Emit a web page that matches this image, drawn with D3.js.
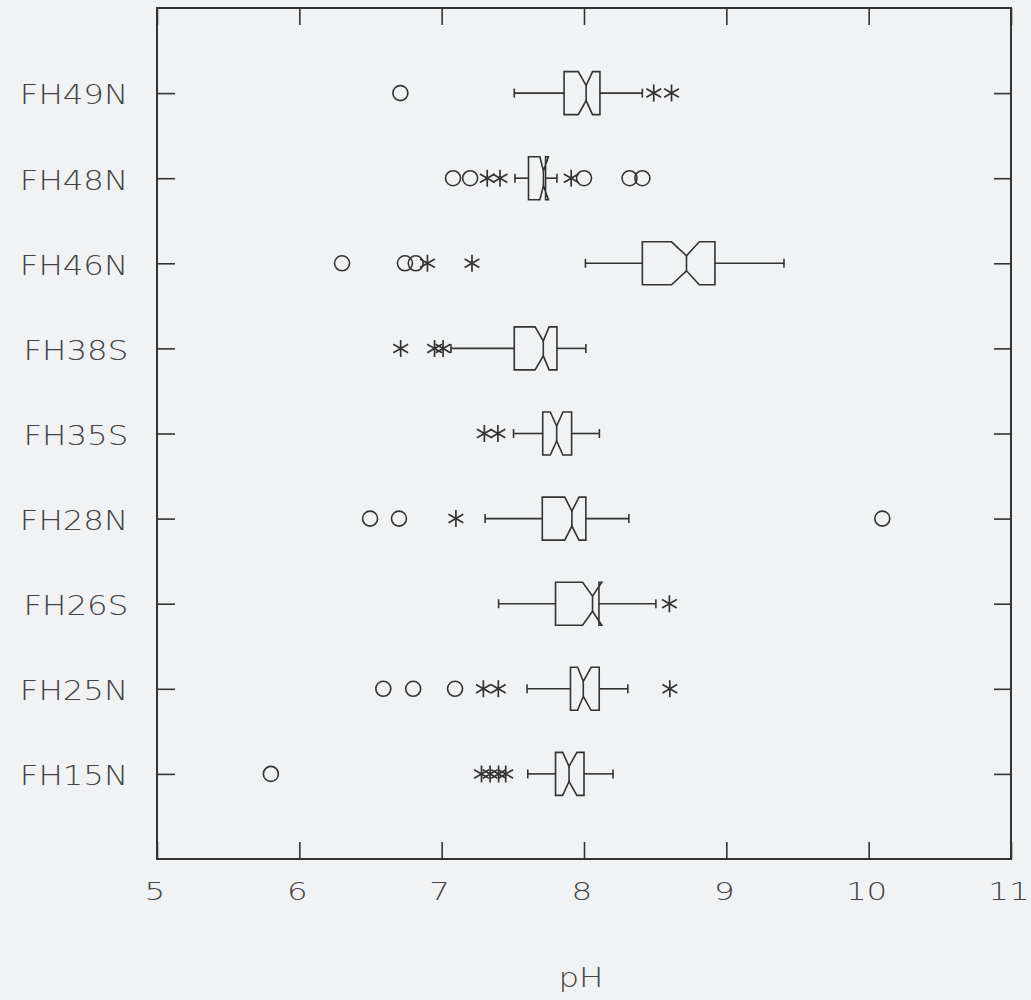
<!DOCTYPE html>
<html>
<head>
<meta charset="utf-8">
<script src="https://cdn.jsdelivr.net/npm/d3@7"></script>
<style>
  html, body { margin: 0; padding: 0; background: #f1f2f3; }
  svg { display: block; }
  text { font-family: "DejaVu Sans", "Liberation Sans", Arial, sans-serif; font-weight: 200; fill: #444; }
</style>
</head>
<body>
<svg id="chart" width="1031" height="1000"></svg>
<script>
// Sites, listed top to bottom
const sites = ["FH49N", "FH48N", "FH46N", "FH38S", "FH35S", "FH28N", "FH26S", "FH25N", "FH15N"];

// Notched box summaries of pH for each site (same order as sites)
const whiskerLow  = [7.51, 7.515, 8.01, 7.065, 7.505, 7.305, 7.40, 7.60, 7.605];
const lowerHinge  = [7.86, 7.61, 8.41, 7.51, 7.71, 7.707, 7.80, 7.905, 7.80];
const notchLow    = [7.96, 7.69, 8.615, 7.656, 7.763, 7.865, 7.99, 7.955, 7.85];
const medians     = [8.015, 7.715, 8.72, 7.714, 7.808, 7.915, 8.06, 7.995, 7.895];
const notchHigh   = [8.06, 7.75, 8.81, 7.755, 7.852, 7.965, 8.125, 8.05, 7.95];
const upperHinge  = [8.112, 7.73, 8.92, 7.81, 7.913, 8.013, 8.105, 8.107, 8.0];
const whiskerHigh = [8.41, 7.81, 9.405, 8.013, 8.108, 8.315, 8.505, 8.308, 8.204];

// Outside values (asterisks) and far outside values (circles)
const outsideValues = [
  [8.49, 8.615],
  [7.32, 7.41, 7.91],
  [6.90, 7.213],
  [6.712, 6.95, 7.01],
  [7.30, 7.395],
  [7.10],
  [8.60],
  [7.293, 7.398, 8.603],
  [7.28, 7.34, 7.40, 7.45]
];
const farOutsideValues = [
  [6.71],
  [7.08, 7.20, 8.00, 8.32, 8.41],
  [6.30, 6.742, 6.818],
  [],
  [],
  [6.497, 6.70, 10.096],
  [],
  [6.59, 6.80, 7.094],
  [5.80]
];

// Axis
const xTicks = [5, 6, 7, 8, 9, 10, 11];
const xTitle = "pH";

const ink = "#333";
const svg = d3.select("#chart");
const plotLeft = 157, plotRight = 1011, plotTop = 8, plotBottom = 859;

const x = d3.scaleLinear().domain([5, 11]).range([plotLeft, plotRight]);
const y = d3.scalePoint().domain(sites).range([plotTop, plotBottom]).padding(1);

const tickLen = 17;
const stretch = 1.2;

// Bottom axis with inward ticks and labels
const gx = svg.append("g").attr("transform", `translate(0,${plotBottom})`)
  .call(d3.axisBottom(x).tickValues(xTicks).tickFormat(d3.format("d"))
    .tickSizeInner(-tickLen).tickSizeOuter(0).tickPadding(23));
gx.select(".domain").remove();
gx.selectAll("line").attr("stroke", ink).attr("stroke-width", 1.6);
gx.selectAll("text").attr("font-size", 25).attr("fill", "#444")
  .attr("x", -2).attr("transform", "scale(1.3,1)");

// Top axis: ticks only
const gt = svg.append("g").attr("transform", `translate(0,${plotTop})`)
  .call(d3.axisTop(x).tickValues(xTicks).tickFormat("")
    .tickSizeInner(-tickLen).tickSizeOuter(0));
gt.select(".domain").remove();
gt.selectAll("line").attr("stroke", ink).attr("stroke-width", 1.6);

// Left axis with site labels
const gy = svg.append("g").attr("transform", `translate(${plotLeft},0)`)
  .call(d3.axisLeft(y).tickSizeInner(-(tickLen + 1)).tickSizeOuter(0).tickPadding(24));
gy.select(".domain").remove();
gy.selectAll("line").attr("stroke", ink).attr("stroke-width", 1.6);
gy.selectAll("text").attr("font-size", 27).attr("fill", "#444")
  .attr("dy", "0.4em").attr("transform", `scale(${stretch},1)`);

// Right axis: ticks only
const gr = svg.append("g").attr("transform", `translate(${plotRight},0)`)
  .call(d3.axisRight(y).tickFormat("").tickSizeInner(-tickLen).tickSizeOuter(0));
gr.select(".domain").remove();
gr.selectAll("line").attr("stroke", ink).attr("stroke-width", 1.6);

// Frame
svg.append("rect")
  .attr("x", plotLeft).attr("y", plotTop)
  .attr("width", plotRight - plotLeft).attr("height", plotBottom - plotTop)
  .attr("fill", "none").attr("stroke", ink).attr("stroke-width", 2);

// Axis title
svg.append("text")
  .attr("transform", `translate(${(plotLeft + plotRight) / 2 - 3},987) scale(1.25,1)`)
  .attr("text-anchor", "middle").attr("font-size", 26).text(xTitle);

// Boxes
const halfBox = 21.5;
const halfWaist = 7.5;
const capHalf = 4.5;

const boxes = svg.append("g").attr("fill", "none").attr("stroke", ink)
  .attr("stroke-width", 1.6).attr("stroke-linejoin", "miter");

sites.forEach((site, i) => {
  const cy = y(site);
  const g = boxes.append("g");

  // whiskers with end caps
  g.append("line").attr("x1", x(whiskerLow[i])).attr("x2", x(lowerHinge[i]))
    .attr("y1", cy).attr("y2", cy);
  g.append("line").attr("x1", x(upperHinge[i])).attr("x2", x(whiskerHigh[i]))
    .attr("y1", cy).attr("y2", cy);
  [whiskerLow[i], whiskerHigh[i]].forEach(v => {
    g.append("line").attr("x1", x(v)).attr("x2", x(v))
      .attr("y1", cy - capHalf).attr("y2", cy + capHalf);
  });

  // notched box
  const p = d3.path();
  p.moveTo(x(lowerHinge[i]), cy - halfBox);
  p.lineTo(x(notchLow[i]), cy - halfBox);
  p.lineTo(x(medians[i]), cy - halfWaist);
  p.lineTo(x(notchHigh[i]), cy - halfBox);
  p.lineTo(x(upperHinge[i]), cy - halfBox);
  p.lineTo(x(upperHinge[i]), cy + halfBox);
  p.lineTo(x(notchHigh[i]), cy + halfBox);
  p.lineTo(x(medians[i]), cy + halfWaist);
  p.lineTo(x(notchLow[i]), cy + halfBox);
  p.lineTo(x(lowerHinge[i]), cy + halfBox);
  p.closePath();
  g.append("path").attr("d", p.toString());
  g.append("line").attr("x1", x(medians[i])).attr("x2", x(medians[i]))
    .attr("y1", cy - halfWaist).attr("y2", cy + halfWaist);

  // outside values: asterisks
  outsideValues[i].forEach(v => {
    const s = 8.5, cx = x(v);
    const a = d3.path();
    a.moveTo(cx, cy - s); a.lineTo(cx, cy + s);
    a.moveTo(cx - s * 0.87, cy - s * 0.5); a.lineTo(cx + s * 0.87, cy + s * 0.5);
    a.moveTo(cx - s * 0.87, cy + s * 0.5); a.lineTo(cx + s * 0.87, cy - s * 0.5);
    g.append("path").attr("d", a.toString()).attr("stroke-width", 1.7);
  });

  // far outside values: circles
  farOutsideValues[i].forEach(v => {
    g.append("circle").attr("cx", x(v)).attr("cy", cy).attr("r", 7.5);
  });
});
</script>
</body>
</html>
